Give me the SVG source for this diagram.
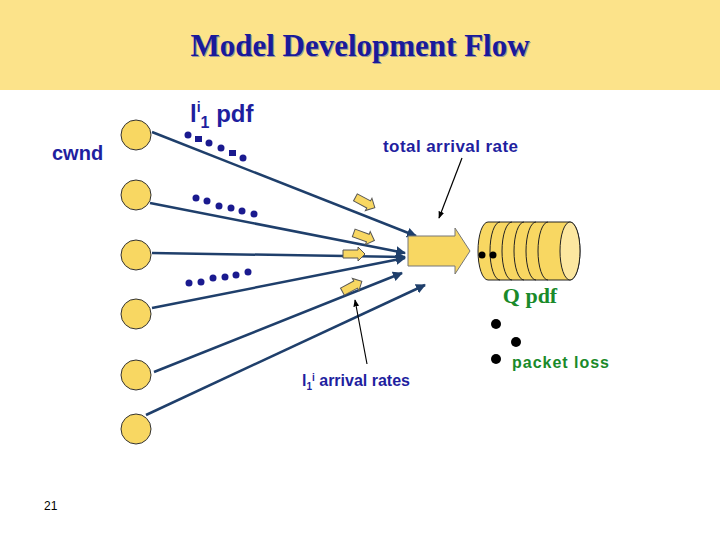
<svg xmlns="http://www.w3.org/2000/svg" width="720" height="540" viewBox="0 0 720 540">
<style>
.src{fill:#F8D762;stroke:#333;stroke-width:1}
.ln{stroke:#1F3F6B;stroke-width:2.5;fill:none}
.thin{stroke:#000;stroke-width:1.2;fill:none}
.blue{fill:#1F1F9F;font-family:"Liberation Sans",Arial,sans-serif;font-weight:bold}
.d{fill:#1A1A8F}
.sa{fill:#F8D762;stroke:#555;stroke-width:1}
</style>
<defs>
<marker id="ah" viewBox="0 0 10 10" refX="9" refY="5" markerWidth="4" markerHeight="4" orient="auto"><path d="M0,0L10,5L0,10z" fill="#1F3F6B"/></marker>
<marker id="bh" viewBox="0 0 10 10" refX="9" refY="5" markerWidth="6" markerHeight="6" orient="auto"><path d="M0,1L10,5L0,9z" fill="#000"/></marker>
<path id="sarr" d="M-12,-4L3,-4L3,-7L10,0L3,7L3,4L-12,4z"/>
</defs>
<rect x="0" y="0" width="720" height="90" fill="#FCE38A"/>
<text x="360" y="56" text-anchor="middle" font-family="Liberation Serif,serif" font-weight="bold" font-size="31" fill="#1A1A9A" style="text-shadow:1px 1px 0 #999">Model Development Flow</text>
<g id="sources">
<circle class="src" cx="136" cy="135" r="15"/>
<circle class="src" cx="136" cy="195" r="15"/>
<circle class="src" cx="136" cy="255" r="15"/>
<circle class="src" cx="136" cy="314" r="15"/>
<circle class="src" cx="136" cy="375" r="15"/>
<circle class="src" cx="136" cy="429" r="15"/>
</g>
<g id="connectors">
<line class="ln" x1="152" y1="132" x2="416" y2="236" marker-end="url(#ah)"/>
<line class="ln" x1="150" y1="203" x2="405" y2="253" marker-end="url(#ah)"/>
<line class="ln" x1="152" y1="253" x2="405" y2="257" marker-end="url(#ah)"/>
<line class="ln" x1="152" y1="308" x2="405" y2="258" marker-end="url(#ah)"/>
<line class="ln" x1="154" y1="372" x2="402" y2="273" marker-end="url(#ah)"/>
<line class="ln" x1="146" y1="415" x2="425" y2="285" marker-end="url(#ah)"/>
<line class="thin" x1="462" y1="158" x2="439" y2="218" marker-end="url(#bh)"/>
<line class="thin" x1="367" y1="364" x2="355" y2="300" marker-end="url(#bh)"/>
</g>
<g id="small-arrows">
<use href="#sarr" class="sa" transform="translate(366,203) rotate(28)"/>
<use href="#sarr" class="sa" transform="translate(365,237) rotate(20)"/>
<use href="#sarr" class="sa" transform="translate(355,254)"/>
<use href="#sarr" class="sa" transform="translate(353,286) rotate(-28)"/>
</g>
<g id="dots">
<circle class="d" cx="188" cy="135" r="3.5"/><rect class="d" x="195" y="136" width="7" height="6"/><circle class="d" cx="209" cy="143" r="3.5"/><circle class="d" cx="221" cy="148" r="3.5"/><rect class="d" x="229" y="150" width="7" height="6"/><circle class="d" cx="243" cy="158" r="3.5"/>
<circle class="d" cx="196" cy="198" r="3.5"/><circle class="d" cx="207" cy="201" r="3.5"/><circle class="d" cx="219" cy="206" r="3.5"/><circle class="d" cx="231" cy="208" r="3.5"/><circle class="d" cx="242" cy="211" r="3.5"/><circle class="d" cx="254" cy="214" r="3.5"/>
<circle class="d" cx="189" cy="283" r="3.5"/><circle class="d" cx="201" cy="282" r="3.5"/><circle class="d" cx="213" cy="278" r="3.5"/><circle class="d" cx="225" cy="277" r="3.5"/><circle class="d" cx="236" cy="275" r="3.5"/><circle class="d" cx="248" cy="272" r="3.5"/>
</g>
<g id="total">
<path d="M408,236L455,236L455,228L470,251L455,274L455,266L408,266z" fill="#F8D762" stroke="#777" stroke-width="1"/>
</g>
<g id="queue">
<path d="M488,222L570,222A10,29 0 0 1 570,280L488,280A10,29 0 0 1 488,222z" fill="#F8D762" stroke="#222" stroke-width="1"/>
<ellipse cx="570" cy="251" rx="10" ry="29" fill="#FCE7A0" stroke="#222" stroke-width="1"/>
<path d="M500,222A10,29 0 0 0 500,280M512,222A10,29 0 0 0 512,280M524,222A10,29 0 0 0 524,280M536,222A10,29 0 0 0 536,280M548,222A10,29 0 0 0 548,280" fill="none" stroke="#222" stroke-width="1"/>
<circle cx="482" cy="255" r="3.5" fill="#000"/><circle cx="493" cy="255" r="3.5" fill="#000"/>
<text x="530" y="303" text-anchor="middle" font-family="Liberation Serif,serif" font-weight="bold" font-size="22" fill="#1A8A2A">Q pdf</text>
<circle cx="496" cy="324" r="5" fill="#000"/><circle cx="516" cy="342" r="5" fill="#000"/><circle cx="496" cy="359" r="5" fill="#000"/>
<text x="512" y="368" font-family="Liberation Sans,Arial,sans-serif" font-weight="bold" font-size="16" fill="#1A8A2A" textLength="97">packet loss</text>
</g>
<g id="labels">
<text x="190" y="122" class="blue" font-size="24">l<tspan font-size="14" dy="-10">i</tspan><tspan font-size="16" dy="16">1</tspan><tspan dy="-6"> pdf</tspan></text>
<text x="52" y="160" class="blue" font-size="20">cwnd</text>
<text x="383" y="152" class="blue" font-size="17" textLength="135">total arrival rate</text>
<text x="302" y="386" class="blue" font-size="16">l<tspan font-size="10" dy="4">1</tspan><tspan font-size="10" dy="-9">i</tspan><tspan dy="5"> arrival rates</tspan></text>
<text x="44" y="510" font-family="Liberation Sans,Arial,sans-serif" font-size="12" fill="#000">21</text>
</g>
</svg>
